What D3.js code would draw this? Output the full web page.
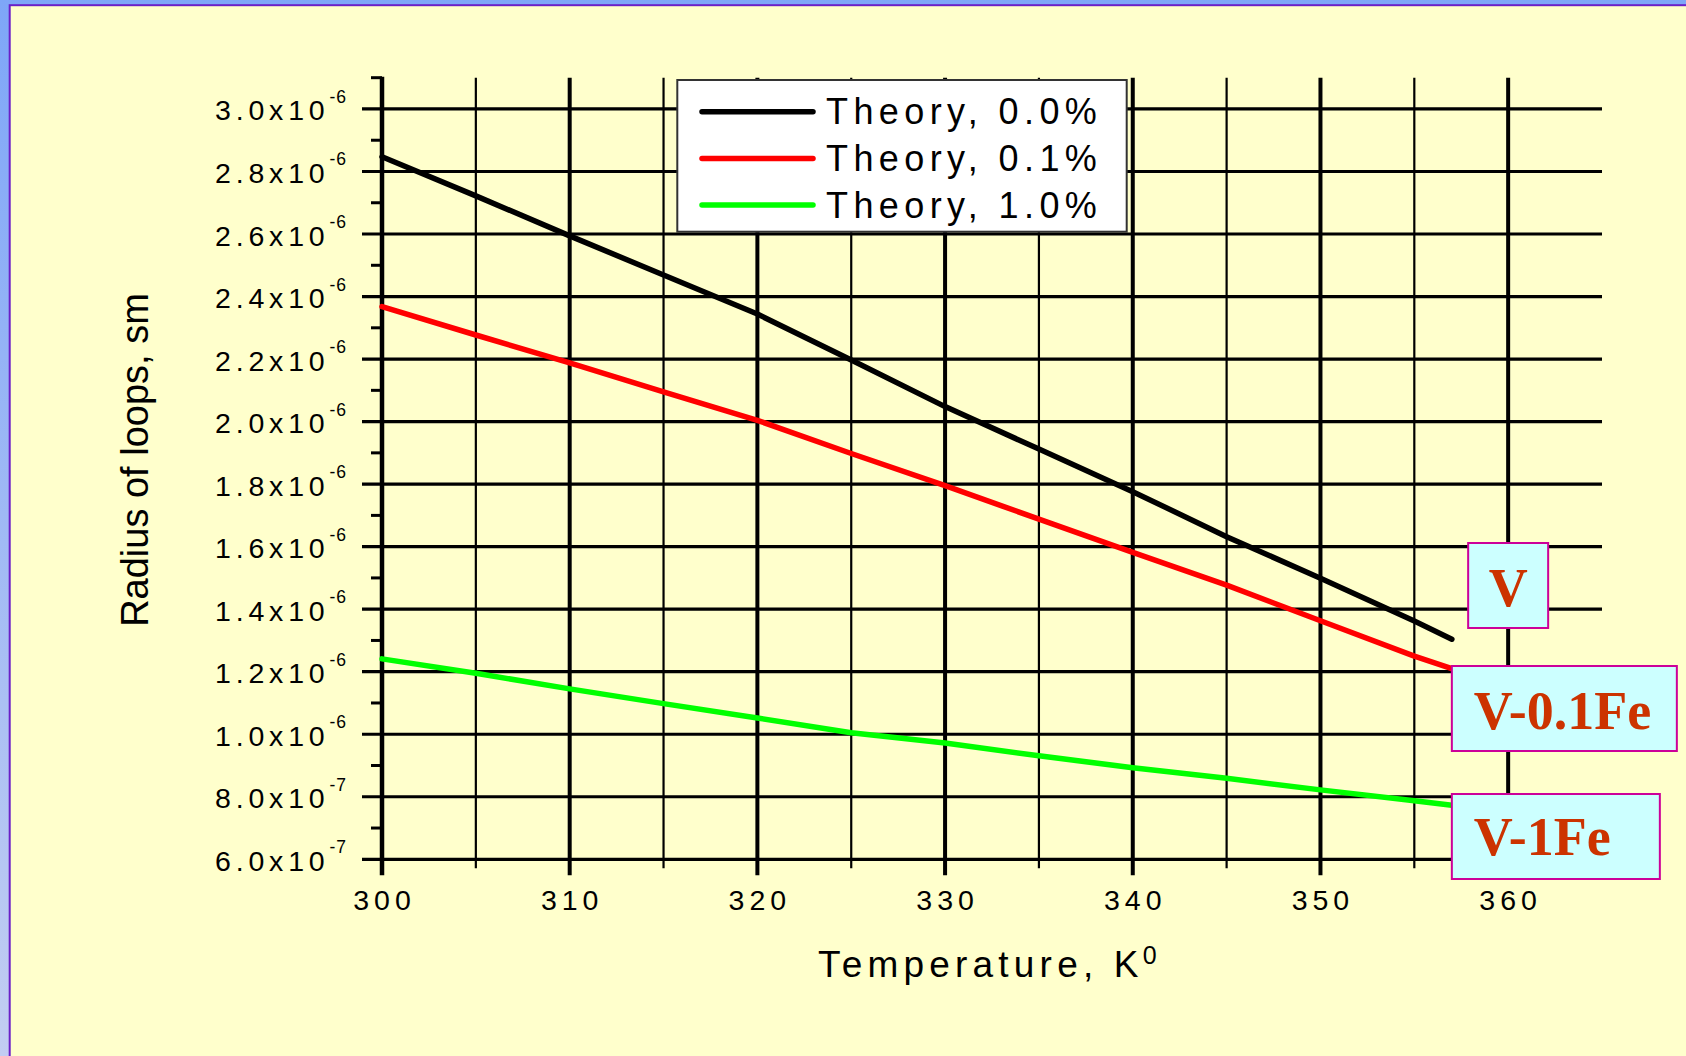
<!DOCTYPE html>
<html>
<head>
<meta charset="utf-8">
<script src="https://cdn.jsdelivr.net/npm/d3@7/dist/d3.min.js"></script>
<style>
  html, body { margin: 0; padding: 0; background: #ffffcc; }
  svg { display: block; }
</style>
</head>
<body>
<script>
// Temperatures (K) at which the loop radius was computed
const temperatures = [300, 305, 310, 315, 320, 325, 330, 335, 340, 345, 350, 355, 357];

// Radius of loops (cm) for the three iron contents
const theory00 = [2.847e-6, 2.722e-6, 2.594e-6, 2.469e-6, 2.344e-6, 2.197e-6, 2.048e-6, 1.912e-6, 1.776e-6, 1.632e-6, 1.499e-6, 1.362e-6, 1.304e-6];
const theory01 = [2.368e-6, 2.277e-6, 2.188e-6, 2.095e-6, 2.004e-6, 1.898e-6, 1.795e-6, 1.688e-6, 1.582e-6, 1.477e-6, 1.363e-6, 1.250e-6, 1.210e-6];
const theory10 = [1.241e-6, 1.195e-6, 1.145e-6, 1.098e-6, 1.052e-6, 1.005e-6, 0.972e-6, 0.931e-6, 0.893e-6, 0.859e-6, 0.822e-6, 0.787e-6, 0.773e-6];

const seriesNames = ["Theory, 0.0%", "Theory, 0.1%", "Theory, 1.0%"];
const seriesColors = ["#000000", "#ff0000", "#00ff00"];
const materialLabels = ["V", "V-0.1Fe", "V-1Fe"];

// Axis ticks
const xMajorTicks = [300, 310, 320, 330, 340, 350, 360];
const xMinorTicks = [305, 315, 325, 335, 345, 355];
const yMajorTicks = [0.6e-6, 0.8e-6, 1.0e-6, 1.2e-6, 1.4e-6, 1.6e-6, 1.8e-6, 2.0e-6, 2.2e-6, 2.4e-6, 2.6e-6, 2.8e-6, 3.0e-6];
const yMinorTicks = [0.7e-6, 0.9e-6, 1.1e-6, 1.3e-6, 1.5e-6, 1.7e-6, 1.9e-6, 2.1e-6, 2.3e-6, 2.5e-6, 2.7e-6, 2.9e-6, 3.1e-6];
const yTickMantissas = ["6.0", "8.0", "1.0", "1.2", "1.4", "1.6", "1.8", "2.0", "2.2", "2.4", "2.6", "2.8", "3.0"];
const yTickExponents = ["-7", "-7", "-6", "-6", "-6", "-6", "-6", "-6", "-6", "-6", "-6", "-6", "-6"];

const W = 1686, H = 1056;
const sans = "'Liberation Sans', Arial, sans-serif";
const serif = "'Liberation Serif', 'Times New Roman', serif";

const svg = d3.select("body").append("svg")
  .attr("width", W).attr("height", H);

// slide frame
const defs = svg.append("defs");
const grad = defs.append("linearGradient").attr("id", "frameGrad")
  .attr("x1", 0).attr("y1", 0).attr("x2", 0).attr("y2", 1);
grad.append("stop").attr("offset", "0%").attr("stop-color", "#7ea6f8");
grad.append("stop").attr("offset", "100%").attr("stop-color", "#c2cdf2");
svg.append("rect").attr("width", W).attr("height", H).attr("fill", "url(#frameGrad)");
svg.append("rect").attr("x", 9.7).attr("y", 5.2).attr("width", W).attr("height", H)
  .attr("fill", "#ffffcc").attr("stroke", "#6a1fc8").attr("stroke-width", 2);

// scales
const x = d3.scaleLinear().domain([300, 365]).range([382, 1602]);
const y = d3.scaleLinear().domain([0.6e-6, 3.1e-6]).range([859.3, 77.7]);
const x0 = x(300), x1 = x(365), yTop = y(3.1e-6), yBot = y(0.6e-6);

const grid = svg.append("g");

// vertical minor grid lines (+ ticks below the axis)
grid.selectAll("line.vminor").data(xMinorTicks).join("line")
  .attr("class", "vminor")
  .attr("x1", d => x(d)).attr("x2", d => x(d))
  .attr("y1", yTop).attr("y2", yBot + 9)
  .attr("stroke", "#000").attr("stroke-width", 2.2);

// vertical major grid lines
grid.selectAll("line.vmajor").data(xMajorTicks.slice(1)).join("line")
  .attr("class", "vmajor")
  .attr("x1", d => x(d)).attr("x2", d => x(d))
  .attr("y1", yTop).attr("y2", yBot + 16)
  .attr("stroke", "#000").attr("stroke-width", 4);

// horizontal major grid lines (+ ticks left of the axis)
grid.selectAll("line.hmajor").data(yMajorTicks).join("line")
  .attr("class", "hmajor")
  .attr("x1", x0 - 20).attr("x2", x1)
  .attr("y1", d => y(d)).attr("y2", d => y(d))
  .attr("stroke", "#000").attr("stroke-width", 3.2);

// minor ticks on the left axis
grid.selectAll("line.yminor").data(yMinorTicks).join("line")
  .attr("class", "yminor")
  .attr("x1", x0 - 11).attr("x2", x0)
  .attr("y1", d => y(d)).attr("y2", d => y(d))
  .attr("stroke", "#000").attr("stroke-width", 3);

// left axis line
grid.append("line")
  .attr("x1", x0).attr("x2", x0).attr("y1", yTop - 1).attr("y2", yBot + 16)
  .attr("stroke", "#000").attr("stroke-width", 4.5);

// y tick labels with power-of-ten superscripts
const yLab = svg.append("g").attr("font-family", sans).attr("fill", "#000");
yMajorTicks.forEach((v, i) => {
  const t = yLab.append("text")
    .attr("x", 347).attr("y", y(v) + 11.5)
    .attr("text-anchor", "end")
    .attr("font-size", 28.5).attr("letter-spacing", "4.8px");
  t.append("tspan").text(yTickMantissas[i] + "x10");
  t.append("tspan").attr("dy", -17.5).attr("font-size", 17.5)
    .attr("letter-spacing", "1px").text(yTickExponents[i]);
});

// x tick labels
svg.append("g").attr("font-family", sans)
  .selectAll("text").data(xMajorTicks).join("text")
  .attr("x", d => x(d) + 2.5).attr("y", 910)
  .attr("text-anchor", "middle")
  .attr("font-size", 28.5).attr("letter-spacing", "5px")
  .text(d => d);

// axis titles
const xt = svg.append("text")
  .attr("x", 818).attr("y", 977)
  .attr("font-family", sans).attr("font-size", 37).attr("letter-spacing", "5.2px");
xt.append("tspan").text("Temperature, K");
xt.append("tspan").attr("dy", -13).attr("dx", -1).attr("font-size", 25).text("0");

svg.append("text")
  .attr("transform", "translate(148,460) rotate(-90)")
  .attr("text-anchor", "middle")
  .attr("font-family", sans).attr("font-size", 38)
  .text("Radius of loops, sm");

// curves
const series = [theory00, theory01, theory10];
const line = d3.line().x((d, i) => x(temperatures[i])).y(d => y(d));
svg.append("g").selectAll("path").data(series).join("path")
  .attr("d", d => line(d))
  .attr("fill", "none")
  .attr("stroke", (d, i) => seriesColors[i])
  .attr("stroke-width", 5.5)
  .attr("stroke-linecap", "round")
  .attr("stroke-linejoin", "round");

// legend
const lg = svg.append("g");
lg.append("rect").attr("x", 677.3).attr("y", 80).attr("width", 449.4).attr("height", 151.7)
  .attr("fill", "#fff").attr("stroke", "#333").attr("stroke-width", 2);
seriesNames.forEach((name, i) => {
  const ly = 111.7 + i * 46.7;
  lg.append("line").attr("x1", 702).attr("x2", 813).attr("y1", ly).attr("y2", ly)
    .attr("stroke", seriesColors[i]).attr("stroke-width", 5.5).attr("stroke-linecap", "round");
  lg.append("text").attr("x", 826).attr("y", ly + 12.6)
    .attr("font-family", sans).attr("font-size", 36).attr("letter-spacing", "5.4px")
    .text(name);
});

// material tags at the ends of the curves
const tagBoxes = [
  { x: x(360) - 40, y: 543, w: 80, h: 85, tx: x(360), ty: 606, anchor: "middle" },
  { x: x(357), y: 666, w: 225, h: 85, tx: x(357) + 22, ty: 729, anchor: "start" },
  { x: x(357), y: 794, w: 208, h: 85, tx: x(357) + 22, ty: 855, anchor: "start" }
];
const tags = svg.append("g");
materialLabels.forEach((lab, i) => {
  const b = tagBoxes[i];
  tags.append("rect").attr("x", b.x).attr("y", b.y).attr("width", b.w).attr("height", b.h)
    .attr("fill", "#ccffff").attr("stroke", "#cc0099").attr("stroke-width", 2);
  tags.append("text").attr("x", b.tx).attr("y", b.ty).attr("text-anchor", b.anchor)
    .attr("font-family", serif).attr("font-weight", "bold").attr("font-size", 54)
    .attr("fill", "#cc3300").text(lab);
});
</script>
</body>
</html>
